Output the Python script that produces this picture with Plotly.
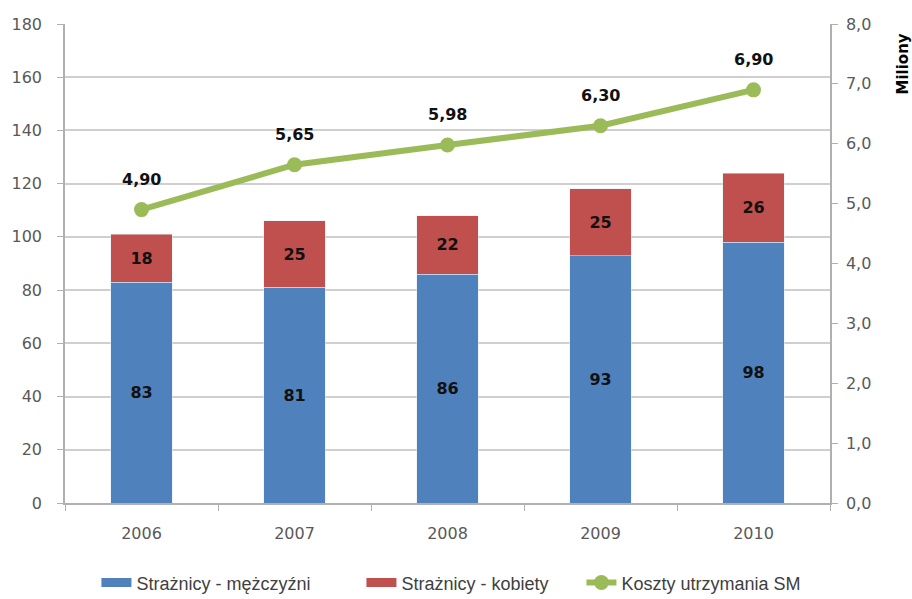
import plotly.graph_objects as go

years = ["2006", "2007", "2008", "2009", "2010"]
men = [83, 81, 86, 93, 98]
women = [18, 25, 22, 25, 26]
costs = [4.90, 5.65, 5.98, 6.30, 6.90]
right_ticks = [0, 1, 2, 3, 4, 5, 6, 7, 8]

name_men = "Strażnicy - mężczyźni"
name_women = "Strażnicy - kobiety"
name_costs = "Koszty utrzymania SM"

blue = "#4F81BD"
red = "#C0504D"
green = "#9BBB59"
tick_font = "DejaVu Sans, sans-serif"
legend_font = "Liberation Sans, Arial, sans-serif"


def pl(v, d):
    return f"{v:.{d}f}".replace(".", ",")


label_font = dict(color="#111111", size=16, family=tick_font, weight="bold")

fig = go.Figure()
fig.add_trace(go.Bar(
    x=years, y=men, name=name_men, marker_color=blue, showlegend=False,
    text=[str(v) for v in men], textposition="inside", insidetextanchor="middle",
    textfont=label_font, hoverinfo="skip",
))
fig.add_trace(go.Bar(
    x=years, y=women, name=name_women, marker_color=red, showlegend=False,
    text=[str(v) for v in women], textposition="inside", insidetextanchor="middle",
    textfont=label_font, hoverinfo="skip",
))
# legend-only entries drawn as wide bars (like the original legend keys)
fig.add_trace(go.Scatter(x=[years[0]], y=[None], mode="lines", name=name_men,
                         line=dict(color=blue, width=9), hoverinfo="skip",
                         legendwidth=220))
fig.add_trace(go.Scatter(x=[years[0]], y=[None], mode="lines", name=name_women,
                         line=dict(color=red, width=9), hoverinfo="skip",
                         legendwidth=175))
fig.add_trace(go.Scatter(
    x=years, y=costs, name=name_costs, yaxis="y2",
    mode="lines+markers", line=dict(color=green, width=6),
    marker=dict(color=green, size=15), hoverinfo="skip",
))

for i, v in enumerate(costs):
    fig.add_annotation(
        x=i, y=v, xref="x", yref="y2", text="<b>" + pl(v, 2) + "</b>",
        showarrow=False, yshift=30, font=dict(size=16, color="#111111", family=tick_font),
    )

fig.add_annotation(
    x=1.0, xref="paper", xanchor="center", xshift=72, y=1.0, yref="paper", yanchor="top",
    yshift=-8, text="<b>Miliony</b>", textangle=-90, showarrow=False,
    font=dict(size=15, color="black", family=tick_font),
)

axis_font = dict(size=16, color="#595959", family=tick_font)
fig.update_layout(
    width=912, height=599,
    margin=dict(l=65, r=82, t=24, b=96),
    barmode="stack", bargap=0.6,
    plot_bgcolor="white", paper_bgcolor="white",
    showlegend=True,
    legend=dict(orientation="h", xref="container", x=0.495, xanchor="center",
                yref="container", y=0.027, yanchor="middle",
                font=dict(size=18, color="#404040", family=legend_font),
                traceorder="normal"),
    xaxis=dict(type="category", showline=True, linecolor="#B0B0B0", linewidth=1.5,
               ticks="outside", tickson="boundaries", ticklen=6, tickcolor="#B0B0B0",
               tickfont=axis_font, showgrid=False, ticklabelstandoff=15),
    yaxis=dict(range=[0, 180], dtick=20, showline=True, linecolor="#B0B0B0", linewidth=1.5,
               ticks="outside", ticklen=6, tickcolor="#B0B0B0", tickfont=axis_font,
               showgrid=True, gridcolor="#CFCFCF", gridwidth=2, zeroline=False,
               ticklabelstandoff=12),
    yaxis2=dict(range=[0, 8], tickvals=right_ticks, ticktext=[pl(t, 1) for t in right_ticks],
                overlaying="y", side="right",
                showline=True, linecolor="#B0B0B0", linewidth=1.5, ticks="outside", ticklen=6,
                tickcolor="#B0B0B0", tickfont=axis_font, showgrid=False, zeroline=False,
                ticklabelstandoff=5),
)

fig.write_html("out.html", config={"displayModeBar": False},
               post_script="document.body.style.margin='0';")
